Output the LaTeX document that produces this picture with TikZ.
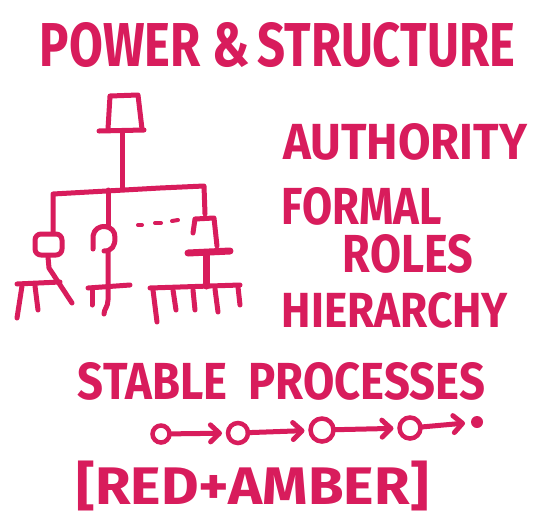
\documentclass[tikz,border=0pt]{standalone}
\usepackage{fontspec}
\setmainfont{Fira Sans}
\usetikzlibrary{arrows.meta}
\definecolor{ink}{RGB}{216,28,92}
\newcommand{\fitT}[3]{\resizebox{#1pt}{#2pt}{\bfseries #3}}
\newcommand{\fitTT}[3]{\resizebox*{#1pt}{#2pt}{\bfseries #3}}
\begin{document}
\begin{tikzpicture}[x=1pt,y=-1pt,
  lbl/.style={inner sep=0pt, outer sep=0pt, text=ink},
  pen/.style={draw=ink, line width=5pt, line cap=round, line join=round},
  thickpen/.style={pen, line width=7pt},
  ring/.style={circle, draw=ink, line width=4.5pt, inner sep=0pt, outer sep=0pt},
  blob/.style={circle, fill=ink, inner sep=0pt, outer sep=0pt, minimum size=12pt},
  flow/.style={pen, -{Straight Barb[length=9pt,width=17pt,line cap=round,line join=round]}, shorten >=6pt}]
\useasboundingbox (0,0) rectangle (551,520);
\fill[white] (0,0) rectangle (551,520);

% texts
\node[lbl] (title) at (277.5,45) {\fitT{475}{44}{POWER \&\,STRUCTURE}};
\node[lbl] (auth) at (405,142) {\fitT{244}{36}{AUTHORITY}};
\node[lbl] (formal) at (362,206) {\fitT{160}{37}{FORMAL}};
\node[lbl] (roles) at (408,254) {\fitT{130}{38}{ROLES}};
\node[lbl] (hier) at (395,310) {\fitT{226}{35}{HIERARCHY}};
\node[lbl] (stable) at (281.5,381.5) {\fitT{407}{37}{STABLE~~PROCESSES}};
\node[lbl] (ra) at (253,486) {\fitTT{353}{50}{[RED+AMBER]}};

% tree: top box
\draw[pen] (108,129) -- (110,96) -- (138,95) -- (142,129);
\draw[pen] (99,131) -- (144,130);
\draw[pen] (122,131) -- (122,188);
\draw[pen] (53,232) -- (53,194) -- (160,188) -- (204,186) -- (205,214);
\draw[pen] (108,190) -- (108,226);
% dots
\draw[pen, line width=4pt] (138,225) -- (142,225);
\draw[pen, line width=4pt] (155,223) -- (161,223);
\draw[pen, line width=4pt] (172,221) -- (178,220);

% left child
\draw[pen, rounded corners=6pt] (35,234) rectangle (62,255);
\draw[pen] (48,257) -- (49,268) -- (72,303);
\draw[pen] (17,284) -- (60,282);
\draw[pen] (22,286) -- (17,318);
\draw[pen] (35,286) -- (38,310);

% middle child
\draw[pen] (93,249) -- (93,236) .. controls (95,222) and (116,224) .. (115,238)
  .. controls (115,246) and (112,251) .. (104,251);
\draw[pen] (108,252) -- (108,300) .. controls (108,307) and (104,309) .. (104,314);
\draw[pen] (88,288) -- (130,285);
\draw[pen] (92,290) -- (92,305);

% right child
\draw[pen] (193,233) -- (195,219) -- (214,218) -- (217,246);
\draw[thickpen] (188,253) -- (230,251);
\draw[thickpen] (206,254) -- (206,286);
\draw[pen] (150,288) -- (240,285);
\draw[pen] (153,290) -- (157,322);
\draw[pen] (173,290) -- (176,310);
\draw[pen] (193,290) -- (195,310);
\draw[pen] (215,289) -- (218,312);
\draw[pen] (238,287) -- (240,305);

% process chain
\node[ring, minimum size=17pt] (c1) at (161,434) {};
\node[ring, minimum size=20pt] (c2) at (238,433) {};
\node[ring, minimum size=23pt] (c3) at (322,430) {};
\node[ring, minimum size=21pt] (c4) at (410,428) {};
\node[blob] (c5) at (477,422) {};
\draw[flow] (c1) -- (c2);
\draw[flow] (c2) -- (c3);
\draw[flow] (c3) -- (c4);
\draw[flow] (c4) -- (c5);
\end{tikzpicture}
\end{document}
